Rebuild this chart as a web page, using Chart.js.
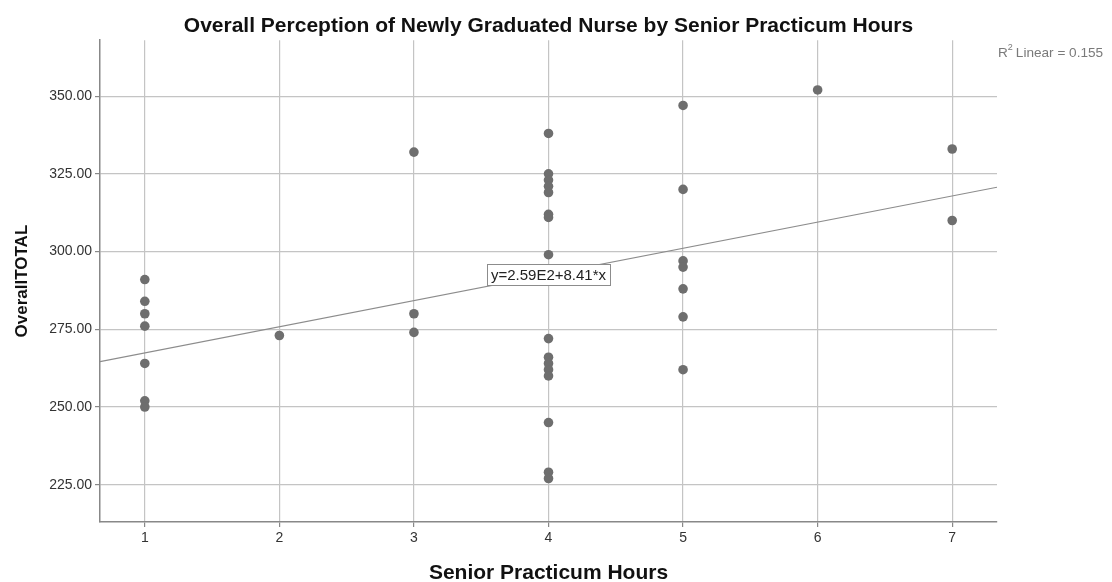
<!DOCTYPE html>
<html>
<head>
<meta charset="utf-8">
<script src="https://cdn.jsdelivr.net/npm/chart.js@4.4.0/dist/chart.umd.min.js"></script>
<style>
  html, body { margin: 0; padding: 0; background: #fff; }
  #wrap { width: 1112px; height: 582px; }
</style>
</head>
<body>
<div id="wrap"><canvas id="scatter"></canvas></div>
<script>
// Senior practicum hours (x) and OverallTOTAL (y)
const hours = [
    1, 1, 1, 1, 1, 1, 1,
    2,
    3, 3, 3,
    4, 4, 4, 4, 4, 4, 4, 4, 4, 4, 4, 4, 4, 4, 4, 4,
    5, 5, 5, 5, 5, 5, 5,
    6,
    7, 7,
];
const totals = [
    291, 284, 280, 276, 264, 252, 250,
    273,
    332, 280, 274,
    338, 325, 323, 321, 319, 312, 311, 299, 272, 266, 264, 262, 260, 245, 229, 227,
    347, 320, 297, 295, 288, 279, 262,
    352,
    333, 310,
];

// tick labels
const xTicks = [1, 2, 3, 4, 5, 6, 7];
const yTicks = [225, 250, 275, 300, 325, 350];

// fit line as drawn, end to end across the plot
const fitX = [0.667, 7.333];
const fitY = [264.6, 320.7];
const fitLabel = "y=2.59E2+8.41*x";
const fitLabelAt = [4, 292.6];
const r2Text = "0.155";

const xMin = 0.667, xMax = 7.333;
const yMin = 213, yMax = 368;

const FONT = "'Liberation Sans', Arial, sans-serif";

const annotations = {
    id: "annotations",
    afterDatasetsDraw(chart) {
        const { ctx, scales, chartArea } = chart;
        // equation box on the fit line
        const px = scales.x.getPixelForValue(fitLabelAt[0]);
        const py = scales.y.getPixelForValue(fitLabelAt[1]);
        ctx.save();
        ctx.font = "15px " + FONT;
        const w = Math.round(ctx.measureText(fitLabel).width + 8);
        const h = 21;
        const bx = Math.round(px - w / 2) + 0.5, by = Math.round(py - h / 2) + 0.5;
        ctx.fillStyle = "#fff";
        ctx.fillRect(bx, by, w, h);
        ctx.strokeStyle = "#8c8c8c";
        ctx.lineWidth = 1;
        ctx.strokeRect(bx, by, w, h);
        ctx.fillStyle = "#222";
        ctx.textAlign = "center";
        ctx.textBaseline = "middle";
        ctx.fillText(fitLabel, px, py + 1);

        // R² note top right
        let x = chartArea.right + 1;
        const y = 53;
        ctx.fillStyle = "#7a7a7a";
        ctx.textAlign = "left";
        ctx.font = "13.6px " + FONT;
        ctx.fillText("R", x, y);
        x += ctx.measureText("R").width;
        ctx.font = "9px " + FONT;
        ctx.fillText("2", x, y - 5);
        x += ctx.measureText("2").width + 3;
        ctx.font = "13.6px " + FONT;
        ctx.fillText("Linear = " + r2Text, x, y);
        ctx.restore();
    },
};

const setTicks = (values) => (scale) => {
    scale.ticks = values.map((v) => ({ value: v }));
};

new Chart(document.getElementById("scatter"), {
    type: "scatter",
    data: {
        datasets: [
            {
                label: "fit",
                type: "line",
                data: fitX.map((x, i) => ({ x: x, y: fitY[i] })),
                borderColor: "#8c8c8c",
                borderWidth: 1.2,
                pointRadius: 0,
                fill: false,
                order: 1,
            },
            {
                label: "OverallTOTAL",
                data: hours.map((h, i) => ({ x: h, y: totals[i] })),
                backgroundColor: "#6e6e6e",
                borderColor: "#6e6e6e",
                pointRadius: 4.8,
                borderWidth: 0,
                order: 0,
            },
        ],
    },
    options: {
        responsive: true,
        maintainAspectRatio: false,
        animation: false,
        layout: { padding: { right: 115 } },
        plugins: {
            legend: { display: false },
            tooltip: { enabled: false },
            title: {
                display: true,
                fullSize: false,
                text: "Overall Perception of Newly Graduated Nurse by Senior Practicum Hours",
                color: "#111",
                font: { family: FONT, size: 21, weight: "bold", lineHeight: 1.2 },
                padding: { top: 14, bottom: 1 },
            },
        },
        scales: {
            x: {
                type: "linear",
                min: xMin,
                max: xMax,
                ticks: {
                    color: "#333",
                    font: { family: FONT, size: 14 },
                    padding: 3,
                    callback: (v) => v,
                },
                afterBuildTicks: setTicks(xTicks),
                afterFit: (s) => { s.height = 60; },
                grid: { color: "#c4c4c4", lineWidth: 1.2, tickLength: 5, tickColor: "#888" },
                border: { color: "#888", width: 1.5 },
                title: {
                    display: true,
                    text: "Senior Practicum Hours",
                    color: "#111",
                    font: { family: FONT, size: 21, weight: "bold", lineHeight: 0.8 },
                    padding: { top: 0, bottom: 0 },
                },
            },
            y: {
                type: "linear",
                min: yMin,
                max: yMax,
                ticks: {
                    color: "#333",
                    font: { family: FONT, size: 14 },
                    padding: 3,
                    callback: (v) => v.toFixed(2),
                },
                afterBuildTicks: setTicks(yTicks),
                afterFit: (s) => { s.width = 100; },
                grid: { color: "#c4c4c4", lineWidth: 1.2, tickLength: 5, tickColor: "#888" },
                border: { color: "#888", width: 1.5 },
                title: {
                    display: true,
                    text: "OverallTOTAL",
                    color: "#111",
                    font: { family: FONT, size: 17, weight: "bold", lineHeight: 1.2 },
                    padding: { top: 12, bottom: 0 },
                },
            },
        },
    },
    plugins: [annotations],
});
</script>
</body>
</html>
